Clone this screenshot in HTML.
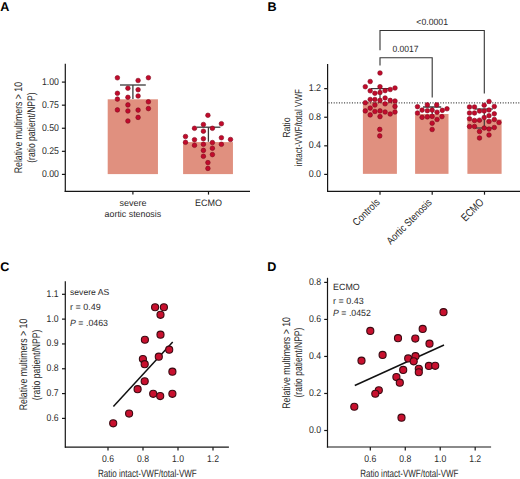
<!DOCTYPE html>
<html><head><meta charset="utf-8"><style>
html,body{margin:0;padding:0;background:#fff;}
svg{display:block;}
text{font-family:"Liberation Sans", sans-serif;text-rendering:geometricPrecision;}
</style></head><body>
<svg width="520" height="479" viewBox="0 0 520 479">
<rect width="520" height="479" fill="#fff"/>
<text x="0.2" y="10.7" font-size="12.6" text-anchor="start" fill="#000" font-weight="bold">A</text>
<text x="267.6" y="10.7" font-size="12.6" text-anchor="start" fill="#000" font-weight="bold">B</text>
<text x="0.2" y="270.9" font-size="12.6" text-anchor="start" fill="#000" font-weight="bold">C</text>
<text x="267.2" y="270.9" font-size="12.6" text-anchor="start" fill="#000" font-weight="bold">D</text>
<rect x="107.7" y="99.3" width="50.25" height="74.8" fill="#e0907f"/>
<rect x="183.1" y="142.1" width="49.85" height="32" fill="#e0907f"/>
<line x1="120" y1="85" x2="145.8" y2="85" stroke="#3a3a3a" stroke-width="1.3" />
<line x1="132.9" y1="85" x2="132.9" y2="99" stroke="#3a3a3a" stroke-width="1.3" />
<line x1="196.7" y1="127.2" x2="220.4" y2="127.2" stroke="#3a3a3a" stroke-width="1.3" />
<line x1="208.4" y1="127.2" x2="208.4" y2="141.75" stroke="#3a3a3a" stroke-width="1.3" />
<circle cx="117.4" cy="77.8" r="2.3" fill="#c20a2c" stroke="#7f0a1c" stroke-width="0.6"/>
<circle cx="117.4" cy="93.3" r="2.3" fill="#c20a2c" stroke="#7f0a1c" stroke-width="0.6"/>
<circle cx="117.4" cy="99.1" r="2.3" fill="#c20a2c" stroke="#7f0a1c" stroke-width="0.6"/>
<circle cx="117.4" cy="109.89999999999999" r="2.3" fill="#c20a2c" stroke="#7f0a1c" stroke-width="0.6"/>
<circle cx="127.9" cy="88.2" r="2.3" fill="#c20a2c" stroke="#7f0a1c" stroke-width="0.6"/>
<circle cx="127.9" cy="97.3" r="2.3" fill="#c20a2c" stroke="#7f0a1c" stroke-width="0.6"/>
<circle cx="127.9" cy="104.89999999999999" r="2.3" fill="#c20a2c" stroke="#7f0a1c" stroke-width="0.6"/>
<circle cx="127.9" cy="111.0" r="2.3" fill="#c20a2c" stroke="#7f0a1c" stroke-width="0.6"/>
<circle cx="127.9" cy="121.0" r="2.3" fill="#c20a2c" stroke="#7f0a1c" stroke-width="0.6"/>
<circle cx="138.1" cy="80.5" r="2.3" fill="#c20a2c" stroke="#7f0a1c" stroke-width="0.6"/>
<circle cx="138.1" cy="89.7" r="2.3" fill="#c20a2c" stroke="#7f0a1c" stroke-width="0.6"/>
<circle cx="138.1" cy="96.0" r="2.3" fill="#c20a2c" stroke="#7f0a1c" stroke-width="0.6"/>
<circle cx="138.1" cy="110.1" r="2.3" fill="#c20a2c" stroke="#7f0a1c" stroke-width="0.6"/>
<circle cx="138.1" cy="117.39999999999999" r="2.3" fill="#c20a2c" stroke="#7f0a1c" stroke-width="0.6"/>
<circle cx="148.4" cy="77.7" r="2.3" fill="#c20a2c" stroke="#7f0a1c" stroke-width="0.6"/>
<circle cx="148.4" cy="101.8" r="2.3" fill="#c20a2c" stroke="#7f0a1c" stroke-width="0.6"/>
<circle cx="148.4" cy="108.6" r="2.3" fill="#c20a2c" stroke="#7f0a1c" stroke-width="0.6"/>
<circle cx="185.5" cy="136.5" r="2.3" fill="#c20a2c" stroke="#7f0a1c" stroke-width="0.6"/>
<circle cx="185.5" cy="142.3" r="2.3" fill="#c20a2c" stroke="#7f0a1c" stroke-width="0.6"/>
<circle cx="194.5" cy="128.3" r="2.3" fill="#c20a2c" stroke="#7f0a1c" stroke-width="0.6"/>
<circle cx="194.5" cy="139.70000000000002" r="2.3" fill="#c20a2c" stroke="#7f0a1c" stroke-width="0.6"/>
<circle cx="194.5" cy="145.3" r="2.3" fill="#c20a2c" stroke="#7f0a1c" stroke-width="0.6"/>
<circle cx="203.4" cy="124.5" r="2.3" fill="#c20a2c" stroke="#7f0a1c" stroke-width="0.6"/>
<circle cx="203.4" cy="131.20000000000002" r="2.3" fill="#c20a2c" stroke="#7f0a1c" stroke-width="0.6"/>
<circle cx="203.4" cy="138.70000000000002" r="2.3" fill="#c20a2c" stroke="#7f0a1c" stroke-width="0.6"/>
<circle cx="203.4" cy="144.3" r="2.3" fill="#c20a2c" stroke="#7f0a1c" stroke-width="0.6"/>
<circle cx="203.4" cy="150.4" r="2.3" fill="#c20a2c" stroke="#7f0a1c" stroke-width="0.6"/>
<circle cx="203.4" cy="156.3" r="2.3" fill="#c20a2c" stroke="#7f0a1c" stroke-width="0.6"/>
<circle cx="207.9" cy="115.3" r="2.3" fill="#c20a2c" stroke="#7f0a1c" stroke-width="0.6"/>
<circle cx="207.9" cy="162.60000000000002" r="2.3" fill="#c20a2c" stroke="#7f0a1c" stroke-width="0.6"/>
<circle cx="207.9" cy="168.4" r="2.3" fill="#c20a2c" stroke="#7f0a1c" stroke-width="0.6"/>
<circle cx="212.4" cy="128.3" r="2.3" fill="#c20a2c" stroke="#7f0a1c" stroke-width="0.6"/>
<circle cx="212.4" cy="142.55" r="2.3" fill="#c20a2c" stroke="#7f0a1c" stroke-width="0.6"/>
<circle cx="212.4" cy="148.20000000000002" r="2.3" fill="#c20a2c" stroke="#7f0a1c" stroke-width="0.6"/>
<circle cx="212.4" cy="154.60000000000002" r="2.3" fill="#c20a2c" stroke="#7f0a1c" stroke-width="0.6"/>
<circle cx="221.4" cy="123.7" r="2.3" fill="#c20a2c" stroke="#7f0a1c" stroke-width="0.6"/>
<circle cx="221.4" cy="137.70000000000002" r="2.3" fill="#c20a2c" stroke="#7f0a1c" stroke-width="0.6"/>
<circle cx="221.4" cy="144.3" r="2.3" fill="#c20a2c" stroke="#7f0a1c" stroke-width="0.6"/>
<circle cx="230.5" cy="139.5" r="2.3" fill="#c20a2c" stroke="#7f0a1c" stroke-width="0.6"/>
<line x1="65.3" y1="63.8" x2="65.3" y2="192.0" stroke="#161616" stroke-width="1.2" />
<line x1="64.7" y1="191.4" x2="250" y2="191.4" stroke="#161616" stroke-width="1.2" />
<line x1="61.9" y1="174.4" x2="65.3" y2="174.4" stroke="#161616" stroke-width="1.2" />
<text x="58.9" y="176.8" font-size="9.8" text-anchor="end" fill="#2a2a2a" textLength="17.0" lengthAdjust="spacingAndGlyphs">0.00</text>
<line x1="61.9" y1="151.32500000000002" x2="65.3" y2="151.32500000000002" stroke="#161616" stroke-width="1.2" />
<text x="58.9" y="153.72500000000002" font-size="9.8" text-anchor="end" fill="#2a2a2a" textLength="17.0" lengthAdjust="spacingAndGlyphs">0.25</text>
<line x1="61.9" y1="128.25" x2="65.3" y2="128.25" stroke="#161616" stroke-width="1.2" />
<text x="58.9" y="130.65" font-size="9.8" text-anchor="end" fill="#2a2a2a" textLength="17.0" lengthAdjust="spacingAndGlyphs">0.50</text>
<line x1="61.9" y1="105.17500000000001" x2="65.3" y2="105.17500000000001" stroke="#161616" stroke-width="1.2" />
<text x="58.9" y="107.57500000000002" font-size="9.8" text-anchor="end" fill="#2a2a2a" textLength="17.0" lengthAdjust="spacingAndGlyphs">0.75</text>
<line x1="61.9" y1="82.10000000000001" x2="65.3" y2="82.10000000000001" stroke="#161616" stroke-width="1.2" />
<text x="58.9" y="84.50000000000001" font-size="9.8" text-anchor="end" fill="#2a2a2a" textLength="17.0" lengthAdjust="spacingAndGlyphs">1.00</text>
<line x1="132.9" y1="191.4" x2="132.9" y2="194.6" stroke="#161616" stroke-width="1.2" />
<line x1="208.5" y1="191.4" x2="208.5" y2="194.6" stroke="#161616" stroke-width="1.2" />
<text x="132.9" y="206.2" font-size="9.0" text-anchor="middle" fill="#2a2a2a">severe</text>
<text x="132.9" y="216.9" font-size="9.0" text-anchor="middle" fill="#2a2a2a" textLength="56.6" lengthAdjust="spacingAndGlyphs">aortic stenosis</text>
<text x="208.4" y="206.2" font-size="9.3" text-anchor="middle" fill="#2a2a2a" textLength="27" lengthAdjust="spacingAndGlyphs">ECMO</text>
<text x="0" y="0" font-size="11" text-anchor="middle" fill="#2a2a2a" textLength="91.3" lengthAdjust="spacingAndGlyphs" transform="translate(22.3,127.6) rotate(-90)">Relative multimers &gt; 10</text>
<text x="0" y="0" font-size="11" text-anchor="middle" fill="#2a2a2a" textLength="70.3" lengthAdjust="spacingAndGlyphs" transform="translate(35.3,127.6) rotate(-90)">(ratio patient/NPP)</text>
<rect x="362.9" y="102" width="34" height="71.85" fill="#e0907f"/>
<rect x="415.1" y="114" width="33.4" height="59.85" fill="#e0907f"/>
<rect x="467.4" y="119.5" width="34.2" height="54.35" fill="#e0907f"/>
<line x1="328.5" y1="102.8" x2="520" y2="102.8" stroke="#3c3c3c" stroke-width="1.2" stroke-dasharray="1,1.6"/>
<line x1="371" y1="88.6" x2="389" y2="88.6" stroke="#3a3a3a" stroke-width="1.2" />
<line x1="380" y1="88.6" x2="380" y2="102.5" stroke="#3a3a3a" stroke-width="1.2" />
<line x1="423" y1="107" x2="441.2" y2="107" stroke="#222" stroke-width="1.3" />
<line x1="432.2" y1="107" x2="432.2" y2="114" stroke="#3a3a3a" stroke-width="1.2" />
<line x1="475" y1="109" x2="493" y2="109" stroke="#3a3a3a" stroke-width="1.2" />
<line x1="484.3" y1="109" x2="484.3" y2="128" stroke="#3a3a3a" stroke-width="1.2" />
<line x1="475" y1="128" x2="493" y2="128" stroke="#3a3a3a" stroke-width="1.2" />
<circle cx="380" cy="73" r="2.3" fill="#c20a2c" stroke="#7f0a1c" stroke-width="0.6"/>
<circle cx="370.2" cy="81.5" r="2.3" fill="#c20a2c" stroke="#7f0a1c" stroke-width="0.6"/>
<circle cx="365.3" cy="86.7" r="2.3" fill="#c20a2c" stroke="#7f0a1c" stroke-width="0.6"/>
<circle cx="380" cy="86.7" r="2.3" fill="#c20a2c" stroke="#7f0a1c" stroke-width="0.6"/>
<circle cx="395" cy="88" r="2.3" fill="#c20a2c" stroke="#7f0a1c" stroke-width="0.6"/>
<circle cx="370.2" cy="90.8" r="2.3" fill="#c20a2c" stroke="#7f0a1c" stroke-width="0.6"/>
<circle cx="385.1" cy="90.6" r="2.3" fill="#c20a2c" stroke="#7f0a1c" stroke-width="0.6"/>
<circle cx="390.2" cy="89.5" r="2.3" fill="#c20a2c" stroke="#7f0a1c" stroke-width="0.6"/>
<circle cx="374.9" cy="93.3" r="2.3" fill="#c20a2c" stroke="#7f0a1c" stroke-width="0.6"/>
<circle cx="380" cy="92.5" r="2.3" fill="#c20a2c" stroke="#7f0a1c" stroke-width="0.6"/>
<circle cx="370.2" cy="99.5" r="2.3" fill="#c20a2c" stroke="#7f0a1c" stroke-width="0.6"/>
<circle cx="374.9" cy="99.5" r="2.3" fill="#c20a2c" stroke="#7f0a1c" stroke-width="0.6"/>
<circle cx="380" cy="100.4" r="2.3" fill="#c20a2c" stroke="#7f0a1c" stroke-width="0.6"/>
<circle cx="385.1" cy="98" r="2.3" fill="#c20a2c" stroke="#7f0a1c" stroke-width="0.6"/>
<circle cx="390.2" cy="100.4" r="2.3" fill="#c20a2c" stroke="#7f0a1c" stroke-width="0.6"/>
<circle cx="395" cy="101" r="2.3" fill="#c20a2c" stroke="#7f0a1c" stroke-width="0.6"/>
<circle cx="365.3" cy="102.7" r="2.3" fill="#c20a2c" stroke="#7f0a1c" stroke-width="0.6"/>
<circle cx="374.9" cy="105" r="2.3" fill="#c20a2c" stroke="#7f0a1c" stroke-width="0.6"/>
<circle cx="385.1" cy="103.8" r="2.3" fill="#c20a2c" stroke="#7f0a1c" stroke-width="0.6"/>
<circle cx="370.2" cy="108.1" r="2.3" fill="#c20a2c" stroke="#7f0a1c" stroke-width="0.6"/>
<circle cx="395" cy="106.4" r="2.3" fill="#c20a2c" stroke="#7f0a1c" stroke-width="0.6"/>
<circle cx="365.3" cy="110.9" r="2.3" fill="#c20a2c" stroke="#7f0a1c" stroke-width="0.6"/>
<circle cx="374.9" cy="111.5" r="2.3" fill="#c20a2c" stroke="#7f0a1c" stroke-width="0.6"/>
<circle cx="380" cy="110.9" r="2.3" fill="#c20a2c" stroke="#7f0a1c" stroke-width="0.6"/>
<circle cx="385.1" cy="112" r="2.3" fill="#c20a2c" stroke="#7f0a1c" stroke-width="0.6"/>
<circle cx="390.2" cy="114" r="2.3" fill="#c20a2c" stroke="#7f0a1c" stroke-width="0.6"/>
<circle cx="395" cy="112" r="2.3" fill="#c20a2c" stroke="#7f0a1c" stroke-width="0.6"/>
<circle cx="370.2" cy="114.9" r="2.3" fill="#c20a2c" stroke="#7f0a1c" stroke-width="0.6"/>
<circle cx="380" cy="116.6" r="2.3" fill="#c20a2c" stroke="#7f0a1c" stroke-width="0.6"/>
<circle cx="379.75" cy="129.4" r="2.3" fill="#c20a2c" stroke="#7f0a1c" stroke-width="0.6"/>
<circle cx="379.75" cy="135.9" r="2.3" fill="#c20a2c" stroke="#7f0a1c" stroke-width="0.6"/>
<circle cx="427.35" cy="104.9" r="2.3" fill="#c20a2c" stroke="#7f0a1c" stroke-width="0.6"/>
<circle cx="436.7" cy="104.9" r="2.3" fill="#c20a2c" stroke="#7f0a1c" stroke-width="0.6"/>
<circle cx="417.5" cy="106.7" r="2.3" fill="#c20a2c" stroke="#7f0a1c" stroke-width="0.6"/>
<circle cx="447" cy="108.8" r="2.3" fill="#c20a2c" stroke="#7f0a1c" stroke-width="0.6"/>
<circle cx="422.1" cy="110.1" r="2.3" fill="#c20a2c" stroke="#7f0a1c" stroke-width="0.6"/>
<circle cx="427.35" cy="110.7" r="2.3" fill="#c20a2c" stroke="#7f0a1c" stroke-width="0.6"/>
<circle cx="432.15" cy="110.1" r="2.3" fill="#c20a2c" stroke="#7f0a1c" stroke-width="0.6"/>
<circle cx="437.05" cy="112.2" r="2.3" fill="#c20a2c" stroke="#7f0a1c" stroke-width="0.6"/>
<circle cx="442.3" cy="110.35" r="2.3" fill="#c20a2c" stroke="#7f0a1c" stroke-width="0.6"/>
<circle cx="417.5" cy="113" r="2.3" fill="#c20a2c" stroke="#7f0a1c" stroke-width="0.6"/>
<circle cx="422.1" cy="117.35" r="2.3" fill="#c20a2c" stroke="#7f0a1c" stroke-width="0.6"/>
<circle cx="427.35" cy="116.9" r="2.3" fill="#c20a2c" stroke="#7f0a1c" stroke-width="0.6"/>
<circle cx="432.15" cy="116.4" r="2.3" fill="#c20a2c" stroke="#7f0a1c" stroke-width="0.6"/>
<circle cx="437.05" cy="119.5" r="2.3" fill="#c20a2c" stroke="#7f0a1c" stroke-width="0.6"/>
<circle cx="441.96" cy="116.6" r="2.3" fill="#c20a2c" stroke="#7f0a1c" stroke-width="0.6"/>
<circle cx="432.15" cy="123.2" r="2.3" fill="#c20a2c" stroke="#7f0a1c" stroke-width="0.6"/>
<circle cx="432.15" cy="129.5" r="2.3" fill="#c20a2c" stroke="#7f0a1c" stroke-width="0.6"/>
<circle cx="489.05" cy="101.5" r="2.3" fill="#c20a2c" stroke="#7f0a1c" stroke-width="0.6"/>
<circle cx="484.2" cy="105.2" r="2.3" fill="#c20a2c" stroke="#7f0a1c" stroke-width="0.6"/>
<circle cx="494.3" cy="106.5" r="2.3" fill="#c20a2c" stroke="#7f0a1c" stroke-width="0.6"/>
<circle cx="469.5" cy="107" r="2.3" fill="#c20a2c" stroke="#7f0a1c" stroke-width="0.6"/>
<circle cx="474.5" cy="107" r="2.3" fill="#c20a2c" stroke="#7f0a1c" stroke-width="0.6"/>
<circle cx="479.5" cy="111" r="2.3" fill="#c20a2c" stroke="#7f0a1c" stroke-width="0.6"/>
<circle cx="484.2" cy="111" r="2.3" fill="#c20a2c" stroke="#7f0a1c" stroke-width="0.6"/>
<circle cx="489" cy="110" r="2.3" fill="#c20a2c" stroke="#7f0a1c" stroke-width="0.6"/>
<circle cx="469.5" cy="113" r="2.3" fill="#c20a2c" stroke="#7f0a1c" stroke-width="0.6"/>
<circle cx="474.5" cy="113" r="2.3" fill="#c20a2c" stroke="#7f0a1c" stroke-width="0.6"/>
<circle cx="494.3" cy="113.8" r="2.3" fill="#c20a2c" stroke="#7f0a1c" stroke-width="0.6"/>
<circle cx="489" cy="115.7" r="2.3" fill="#c20a2c" stroke="#7f0a1c" stroke-width="0.6"/>
<circle cx="484.2" cy="117.5" r="2.3" fill="#c20a2c" stroke="#7f0a1c" stroke-width="0.6"/>
<circle cx="469.5" cy="118.8" r="2.3" fill="#c20a2c" stroke="#7f0a1c" stroke-width="0.6"/>
<circle cx="474.5" cy="120.5" r="2.3" fill="#c20a2c" stroke="#7f0a1c" stroke-width="0.6"/>
<circle cx="479.5" cy="120.2" r="2.3" fill="#c20a2c" stroke="#7f0a1c" stroke-width="0.6"/>
<circle cx="489" cy="121.5" r="2.3" fill="#c20a2c" stroke="#7f0a1c" stroke-width="0.6"/>
<circle cx="494.3" cy="119.5" r="2.3" fill="#c20a2c" stroke="#7f0a1c" stroke-width="0.6"/>
<circle cx="499" cy="122.5" r="2.3" fill="#c20a2c" stroke="#7f0a1c" stroke-width="0.6"/>
<circle cx="469.5" cy="126.5" r="2.3" fill="#c20a2c" stroke="#7f0a1c" stroke-width="0.6"/>
<circle cx="474.5" cy="126.5" r="2.3" fill="#c20a2c" stroke="#7f0a1c" stroke-width="0.6"/>
<circle cx="484.2" cy="128" r="2.3" fill="#c20a2c" stroke="#7f0a1c" stroke-width="0.6"/>
<circle cx="489" cy="129" r="2.3" fill="#c20a2c" stroke="#7f0a1c" stroke-width="0.6"/>
<circle cx="494.3" cy="127.5" r="2.3" fill="#c20a2c" stroke="#7f0a1c" stroke-width="0.6"/>
<circle cx="479.5" cy="131.5" r="2.3" fill="#c20a2c" stroke="#7f0a1c" stroke-width="0.6"/>
<circle cx="489" cy="135" r="2.3" fill="#c20a2c" stroke="#7f0a1c" stroke-width="0.6"/>
<circle cx="479.5" cy="138" r="2.3" fill="#c20a2c" stroke="#7f0a1c" stroke-width="0.6"/>
<path d="M380,50.3 V30.5 H484.3 V93.5" fill="none" stroke="#333" stroke-width="1.1"/>
<path d="M380,65.5 V57.7 H432.2 V97.4" fill="none" stroke="#333" stroke-width="1.1"/>
<text x="432.2" y="25.1" font-size="9.0" text-anchor="middle" fill="#2a2a2a" textLength="31.7" lengthAdjust="spacingAndGlyphs">&lt;0.0001</text>
<text x="405.5" y="52.2" font-size="9.0" text-anchor="middle" fill="#2a2a2a" textLength="26.1" lengthAdjust="spacingAndGlyphs">0.0017</text>
<line x1="327.6" y1="63.9" x2="327.6" y2="191.9" stroke="#161616" stroke-width="1.2" />
<line x1="327.0" y1="191.3" x2="520" y2="191.3" stroke="#161616" stroke-width="1.2" />
<line x1="324.2" y1="174.4" x2="327.6" y2="174.4" stroke="#161616" stroke-width="1.2" />
<text x="321.1" y="176.8" font-size="9.8" text-anchor="end" fill="#2a2a2a" textLength="12.4" lengthAdjust="spacingAndGlyphs">0.0</text>
<line x1="324.2" y1="145.82" x2="327.6" y2="145.82" stroke="#161616" stroke-width="1.2" />
<text x="321.1" y="148.22" font-size="9.8" text-anchor="end" fill="#2a2a2a" textLength="12.4" lengthAdjust="spacingAndGlyphs">0.4</text>
<line x1="324.2" y1="117.24000000000001" x2="327.6" y2="117.24000000000001" stroke="#161616" stroke-width="1.2" />
<text x="321.1" y="119.64000000000001" font-size="9.8" text-anchor="end" fill="#2a2a2a" textLength="12.4" lengthAdjust="spacingAndGlyphs">0.8</text>
<line x1="324.2" y1="88.66000000000001" x2="327.6" y2="88.66000000000001" stroke="#161616" stroke-width="1.2" />
<text x="321.1" y="91.06000000000002" font-size="9.8" text-anchor="end" fill="#2a2a2a" textLength="12.4" lengthAdjust="spacingAndGlyphs">1.2</text>
<line x1="380" y1="191.3" x2="380" y2="194.7" stroke="#161616" stroke-width="1.2" />
<line x1="432.2" y1="191.3" x2="432.2" y2="194.7" stroke="#161616" stroke-width="1.2" />
<line x1="484.5" y1="191.3" x2="484.5" y2="194.7" stroke="#161616" stroke-width="1.2" />
<text x="0" y="0" font-size="10.3" text-anchor="middle" fill="#2a2a2a" textLength="20.5" lengthAdjust="spacingAndGlyphs" transform="translate(289.9,127.6) rotate(-90)">Ratio</text>
<text x="0" y="0" font-size="10.3" text-anchor="middle" fill="#2a2a2a" textLength="77.25" lengthAdjust="spacingAndGlyphs" transform="translate(302.3,127.7) rotate(-90)">intact-VWF/total VWF</text>
<text x="0" y="0" font-size="10.5" text-anchor="end" fill="#2a2a2a" textLength="33.5" lengthAdjust="spacingAndGlyphs" transform="translate(380.5,202.8) rotate(-45)">Controls</text>
<text x="0" y="0" font-size="10.5" text-anchor="end" fill="#2a2a2a" textLength="59" lengthAdjust="spacingAndGlyphs" transform="translate(432.5,203.2) rotate(-45)">Aortic Stenosis</text>
<text x="0" y="0" font-size="11" text-anchor="end" fill="#2a2a2a" textLength="27" lengthAdjust="spacingAndGlyphs" transform="translate(484.5,203) rotate(-45)">ECMO</text>
<line x1="65.3" y1="281.2" x2="65.3" y2="447.8" stroke="#161616" stroke-width="1.2" />
<line x1="64.9" y1="447.2" x2="228.9" y2="447.2" stroke="#161616" stroke-width="1.2" />
<line x1="62.0" y1="418.4" x2="65.3" y2="418.4" stroke="#161616" stroke-width="1.2" />
<text x="58.6" y="420.79999999999995" font-size="9.8" text-anchor="end" fill="#2a2a2a" textLength="12.0" lengthAdjust="spacingAndGlyphs">0.6</text>
<line x1="62.0" y1="393.58" x2="65.3" y2="393.58" stroke="#161616" stroke-width="1.2" />
<text x="58.6" y="395.97999999999996" font-size="9.8" text-anchor="end" fill="#2a2a2a" textLength="12.0" lengthAdjust="spacingAndGlyphs">0.7</text>
<line x1="62.0" y1="368.76" x2="65.3" y2="368.76" stroke="#161616" stroke-width="1.2" />
<text x="58.6" y="371.15999999999997" font-size="9.8" text-anchor="end" fill="#2a2a2a" textLength="12.0" lengthAdjust="spacingAndGlyphs">0.8</text>
<line x1="62.0" y1="343.93999999999994" x2="65.3" y2="343.93999999999994" stroke="#161616" stroke-width="1.2" />
<text x="58.6" y="346.3399999999999" font-size="9.8" text-anchor="end" fill="#2a2a2a" textLength="12.0" lengthAdjust="spacingAndGlyphs">0.9</text>
<line x1="62.0" y1="319.12" x2="65.3" y2="319.12" stroke="#161616" stroke-width="1.2" />
<text x="58.6" y="321.52" font-size="9.8" text-anchor="end" fill="#2a2a2a" textLength="12.0" lengthAdjust="spacingAndGlyphs">1.0</text>
<line x1="62.0" y1="294.29999999999995" x2="65.3" y2="294.29999999999995" stroke="#161616" stroke-width="1.2" />
<text x="58.6" y="296.69999999999993" font-size="9.8" text-anchor="end" fill="#2a2a2a" textLength="12.0" lengthAdjust="spacingAndGlyphs">1.1</text>
<line x1="108.0" y1="447.2" x2="108.0" y2="450.6" stroke="#161616" stroke-width="1.2" />
<text x="108.0" y="461.8" font-size="9.8" text-anchor="middle" fill="#2a2a2a" textLength="12.0" lengthAdjust="spacingAndGlyphs">0.6</text>
<line x1="143.0" y1="447.2" x2="143.0" y2="450.6" stroke="#161616" stroke-width="1.2" />
<text x="143.0" y="461.8" font-size="9.8" text-anchor="middle" fill="#2a2a2a" textLength="12.0" lengthAdjust="spacingAndGlyphs">0.8</text>
<line x1="178.0" y1="447.2" x2="178.0" y2="450.6" stroke="#161616" stroke-width="1.2" />
<text x="178.0" y="461.8" font-size="9.8" text-anchor="middle" fill="#2a2a2a" textLength="12.0" lengthAdjust="spacingAndGlyphs">1.0</text>
<line x1="213.0" y1="447.2" x2="213.0" y2="450.6" stroke="#161616" stroke-width="1.2" />
<text x="213.0" y="461.8" font-size="9.8" text-anchor="middle" fill="#2a2a2a" textLength="12.0" lengthAdjust="spacingAndGlyphs">1.2</text>
<text x="147.4" y="476.8" font-size="10.5" text-anchor="middle" fill="#2a2a2a" textLength="98.8" lengthAdjust="spacingAndGlyphs">Ratio intact-VWF/total-VWF</text>
<text x="0" y="0" font-size="11" text-anchor="middle" fill="#2a2a2a" textLength="91.5" lengthAdjust="spacingAndGlyphs" transform="translate(27.0,364.5) rotate(-90)">Relative multimers &gt; 10</text>
<text x="0" y="0" font-size="11" text-anchor="middle" fill="#2a2a2a" textLength="70.5" lengthAdjust="spacingAndGlyphs" transform="translate(39.8,364.9) rotate(-90)">(ratio patient/NPP)</text>
<text x="70" y="294.9" font-size="8.6" text-anchor="start" fill="#2a2a2a" textLength="39.2" lengthAdjust="spacingAndGlyphs">severe AS</text>
<text x="70" y="310.3" font-size="9.0" text-anchor="start" fill="#2a2a2a" textLength="30.8" lengthAdjust="spacingAndGlyphs">r = 0.49</text>
<text x="70" y="325.7" font-size="9" fill="#2a2a2a" textLength="38" lengthAdjust="spacingAndGlyphs"><tspan font-style="italic">P</tspan> = .0463</text>
<line x1="113.4" y1="406.5" x2="172.7" y2="341.9" stroke="#111" stroke-width="1.5" />
<circle cx="155.1" cy="307.25" r="3.55" fill="#c8102e" stroke="#3b0a12" stroke-width="1.1"/>
<circle cx="163.9" cy="307.25" r="3.55" fill="#c8102e" stroke="#3b0a12" stroke-width="1.1"/>
<circle cx="160.5" cy="314.85" r="3.55" fill="#c8102e" stroke="#3b0a12" stroke-width="1.1"/>
<circle cx="160.5" cy="334.65" r="3.55" fill="#c8102e" stroke="#3b0a12" stroke-width="1.1"/>
<circle cx="144.9" cy="339.75" r="3.55" fill="#c8102e" stroke="#3b0a12" stroke-width="1.1"/>
<circle cx="169.2" cy="349.65" r="3.55" fill="#c8102e" stroke="#3b0a12" stroke-width="1.1"/>
<circle cx="158.8" cy="356.65" r="3.55" fill="#c8102e" stroke="#3b0a12" stroke-width="1.1"/>
<circle cx="142.9" cy="359.05" r="3.55" fill="#c8102e" stroke="#3b0a12" stroke-width="1.1"/>
<circle cx="144.7" cy="364.15" r="3.55" fill="#c8102e" stroke="#3b0a12" stroke-width="1.1"/>
<circle cx="172.4" cy="371.65" r="3.55" fill="#c8102e" stroke="#3b0a12" stroke-width="1.1"/>
<circle cx="144.7" cy="381.25" r="3.55" fill="#c8102e" stroke="#3b0a12" stroke-width="1.1"/>
<circle cx="137.6" cy="389.15" r="3.55" fill="#c8102e" stroke="#3b0a12" stroke-width="1.1"/>
<circle cx="153.2" cy="393.85" r="3.55" fill="#c8102e" stroke="#3b0a12" stroke-width="1.1"/>
<circle cx="160.2" cy="396.05" r="3.55" fill="#c8102e" stroke="#3b0a12" stroke-width="1.1"/>
<circle cx="172.4" cy="393.85" r="3.55" fill="#c8102e" stroke="#3b0a12" stroke-width="1.1"/>
<circle cx="129.1" cy="413.55" r="3.55" fill="#c8102e" stroke="#3b0a12" stroke-width="1.1"/>
<circle cx="113.2" cy="423.35" r="3.55" fill="#c8102e" stroke="#3b0a12" stroke-width="1.1"/>
<line x1="327.5" y1="277.8" x2="327.5" y2="447.6" stroke="#161616" stroke-width="1.2" />
<line x1="326.9" y1="447.0" x2="491.1" y2="447.0" stroke="#161616" stroke-width="1.2" />
<line x1="324.2" y1="430.5" x2="327.5" y2="430.5" stroke="#161616" stroke-width="1.2" />
<text x="321.1" y="432.9" font-size="9.8" text-anchor="end" fill="#2a2a2a" textLength="12.2" lengthAdjust="spacingAndGlyphs">0.0</text>
<line x1="324.2" y1="393.475" x2="327.5" y2="393.475" stroke="#161616" stroke-width="1.2" />
<text x="321.1" y="395.875" font-size="9.8" text-anchor="end" fill="#2a2a2a" textLength="12.2" lengthAdjust="spacingAndGlyphs">0.2</text>
<line x1="324.2" y1="356.45" x2="327.5" y2="356.45" stroke="#161616" stroke-width="1.2" />
<text x="321.1" y="358.84999999999997" font-size="9.8" text-anchor="end" fill="#2a2a2a" textLength="12.2" lengthAdjust="spacingAndGlyphs">0.4</text>
<line x1="324.2" y1="319.425" x2="327.5" y2="319.425" stroke="#161616" stroke-width="1.2" />
<text x="321.1" y="321.825" font-size="9.8" text-anchor="end" fill="#2a2a2a" textLength="12.2" lengthAdjust="spacingAndGlyphs">0.6</text>
<line x1="324.2" y1="282.4" x2="327.5" y2="282.4" stroke="#161616" stroke-width="1.2" />
<text x="321.1" y="284.79999999999995" font-size="9.8" text-anchor="end" fill="#2a2a2a" textLength="12.2" lengthAdjust="spacingAndGlyphs">0.8</text>
<line x1="370.3" y1="447.0" x2="370.3" y2="450.4" stroke="#161616" stroke-width="1.2" />
<text x="370.3" y="461.8" font-size="9.8" text-anchor="middle" fill="#2a2a2a" textLength="12.0" lengthAdjust="spacingAndGlyphs">0.6</text>
<line x1="405.26000000000005" y1="447.0" x2="405.26000000000005" y2="450.4" stroke="#161616" stroke-width="1.2" />
<text x="405.26000000000005" y="461.8" font-size="9.8" text-anchor="middle" fill="#2a2a2a" textLength="12.0" lengthAdjust="spacingAndGlyphs">0.8</text>
<line x1="440.22" y1="447.0" x2="440.22" y2="450.4" stroke="#161616" stroke-width="1.2" />
<text x="440.22" y="461.8" font-size="9.8" text-anchor="middle" fill="#2a2a2a" textLength="12.0" lengthAdjust="spacingAndGlyphs">1.0</text>
<line x1="475.18" y1="447.0" x2="475.18" y2="450.4" stroke="#161616" stroke-width="1.2" />
<text x="475.18" y="461.8" font-size="9.8" text-anchor="middle" fill="#2a2a2a" textLength="12.0" lengthAdjust="spacingAndGlyphs">1.2</text>
<text x="409.35" y="476.8" font-size="10.5" text-anchor="middle" fill="#2a2a2a" textLength="98.3" lengthAdjust="spacingAndGlyphs">Ratio intact-VWF/total-VWF</text>
<text x="0" y="0" font-size="11" text-anchor="middle" fill="#2a2a2a" textLength="91.6" lengthAdjust="spacingAndGlyphs" transform="translate(289.9,362.9) rotate(-90)">Relative multimers &gt; 10</text>
<text x="0" y="0" font-size="11" text-anchor="middle" fill="#2a2a2a" textLength="69.8" lengthAdjust="spacingAndGlyphs" transform="translate(302.2,362.6) rotate(-90)">(ratio patient/NPP)</text>
<text x="333.1" y="290.3" font-size="9.0" text-anchor="start" fill="#2a2a2a" textLength="26.6" lengthAdjust="spacingAndGlyphs">ECMO</text>
<text x="333.1" y="303.5" font-size="9.0" text-anchor="start" fill="#2a2a2a" textLength="30.7" lengthAdjust="spacingAndGlyphs">r = 0.43</text>
<text x="333.1" y="316.2" font-size="9" fill="#2a2a2a" textLength="37.7" lengthAdjust="spacingAndGlyphs"><tspan font-style="italic">P</tspan> = .0452</text>
<line x1="354.8" y1="385.5" x2="444" y2="345" stroke="#111" stroke-width="1.5" />
<circle cx="443.5" cy="312.15" r="3.55" fill="#c8102e" stroke="#3b0a12" stroke-width="1.1"/>
<circle cx="370.3" cy="330.95" r="3.55" fill="#c8102e" stroke="#3b0a12" stroke-width="1.1"/>
<circle cx="422.7" cy="328.95" r="3.55" fill="#c8102e" stroke="#3b0a12" stroke-width="1.1"/>
<circle cx="398.0" cy="338.15" r="3.55" fill="#c8102e" stroke="#3b0a12" stroke-width="1.1"/>
<circle cx="415.3" cy="338.55" r="3.55" fill="#c8102e" stroke="#3b0a12" stroke-width="1.1"/>
<circle cx="429.5" cy="343.65" r="3.55" fill="#c8102e" stroke="#3b0a12" stroke-width="1.1"/>
<circle cx="382.6" cy="354.95" r="3.55" fill="#c8102e" stroke="#3b0a12" stroke-width="1.1"/>
<circle cx="361.5" cy="360.65" r="3.55" fill="#c8102e" stroke="#3b0a12" stroke-width="1.1"/>
<circle cx="408.2" cy="358.45" r="3.55" fill="#c8102e" stroke="#3b0a12" stroke-width="1.1"/>
<circle cx="415.5" cy="356.15" r="3.55" fill="#c8102e" stroke="#3b0a12" stroke-width="1.1"/>
<circle cx="413.7" cy="361.35" r="3.55" fill="#c8102e" stroke="#3b0a12" stroke-width="1.1"/>
<circle cx="403.2" cy="369.95" r="3.55" fill="#c8102e" stroke="#3b0a12" stroke-width="1.1"/>
<circle cx="418.8" cy="368.85" r="3.55" fill="#c8102e" stroke="#3b0a12" stroke-width="1.1"/>
<circle cx="418.8" cy="372.25" r="3.55" fill="#c8102e" stroke="#3b0a12" stroke-width="1.1"/>
<circle cx="428.9" cy="365.95" r="3.55" fill="#c8102e" stroke="#3b0a12" stroke-width="1.1"/>
<circle cx="435.2" cy="365.85" r="3.55" fill="#c8102e" stroke="#3b0a12" stroke-width="1.1"/>
<circle cx="396.4" cy="377.05" r="3.55" fill="#c8102e" stroke="#3b0a12" stroke-width="1.1"/>
<circle cx="399.8" cy="382.65" r="3.55" fill="#c8102e" stroke="#3b0a12" stroke-width="1.1"/>
<circle cx="378.8" cy="390.25" r="3.55" fill="#c8102e" stroke="#3b0a12" stroke-width="1.1"/>
<circle cx="375.3" cy="393.75" r="3.55" fill="#c8102e" stroke="#3b0a12" stroke-width="1.1"/>
<circle cx="354.3" cy="406.75" r="3.55" fill="#c8102e" stroke="#3b0a12" stroke-width="1.1"/>
<circle cx="401.5" cy="417.65" r="3.55" fill="#c8102e" stroke="#3b0a12" stroke-width="1.1"/>
</svg>
</body></html>
